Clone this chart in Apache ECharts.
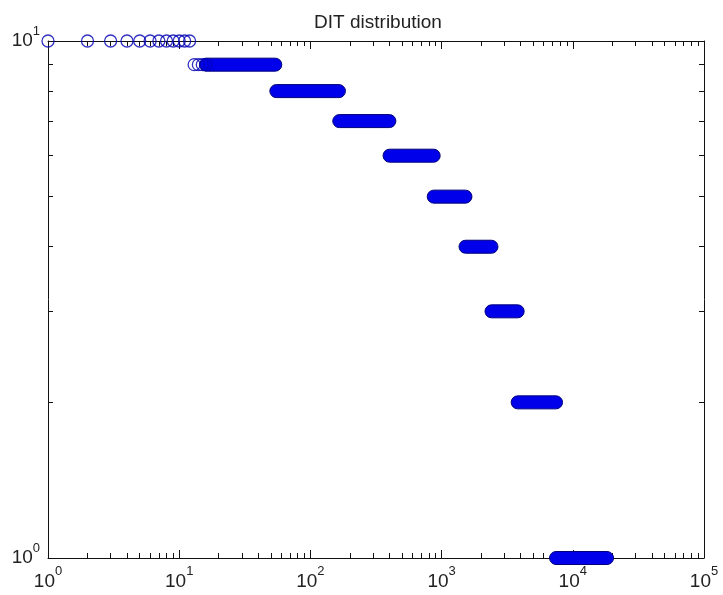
<!DOCTYPE html>
<html>
<head>
<meta charset="utf-8">
<script src="https://cdn.jsdelivr.net/npm/echarts@6/dist/echarts.min.js"></script>
<style>
  html, body { margin: 0; padding: 0; background: #fff; }
  #chart { width: 723px; height: 595px; }
</style>
</head>
<body>
<div id="chart"></div>
<script>
// ranks drawn as single open circles
const level10Ranks = [1, 2, 3, 4, 5, 6, 7, 8, 9, 10, 11, 12];
const level9Ranks = [13, 14, 15, 16];

// dense runs, where the circles merge into one bar
const runLevel = [9, 8, 7, 6, 5, 4, 3, 2, 1];
const runStart = [16, 55, 166, 401, 871, 1521, 2401, 3801, 7451];
const runEnd = [54, 165, 400, 870, 1520, 2400, 3800, 7450, 18240];

// axis ticks
const xMajor = [1, 10, 100, 1000, 10000, 100000];
const xMinor = [2, 3, 4, 5, 6, 7, 8, 9, 20, 30, 40, 50, 60, 70, 80, 90,
  200, 300, 400, 500, 600, 700, 800, 900, 2000, 3000, 4000, 5000, 6000, 7000, 8000, 9000,
  20000, 30000, 40000, 50000, 60000, 70000, 80000, 90000];
const yMajor = [1, 10];
const yMinor = [2, 3, 4, 5, 6, 7, 8, 9];

const FONT = "'Liberation Sans', Arial, sans-serif";
const BLUE = "#0000b4";

// "10" with the exponent raised above it
let powRich = {
  b: { fontSize: 19, fontFamily: FONT, color: "#222", lineHeight: 19, verticalAlign: "bottom" },
  s: { fontSize: 13, fontFamily: FONT, color: "#222", lineHeight: 13, padding: [0, 0, 13, 0], verticalAlign: "bottom" }
};
let powFormat = v => "{b|10}{s|" + Math.round(Math.log10(v)) + "}";

// one log axis of the box; labels only on the bottom/left one
function boxAxis(pos, min, max, ticks, len, labels, showLine) {
  let label = { show: false };
  if (labels) {
    label = {
      show: true,
      customValues: labels,
      formatter: powFormat,
      rich: powRich,
      margin: pos === "bottom" ? 14 : 8
    };
  }
  return {
    type: "log",
    logBase: 10,
    position: pos,
    min: min,
    max: max,
    axisLine: { show: showLine, onZero: false, lineStyle: { color: "#111", width: 1 } },
    axisTick: { show: true, inside: true, length: len, customValues: ticks, lineStyle: { color: "#111", width: 1 } },
    axisLabel: label,
    splitLine: { show: false },
    minorTick: { show: false },
    axisPointer: { show: false }
  };
}

let runs = runLevel.map((lv, i) => [runStart[i], runEnd[i], lv]);

let options = {
  backgroundColor: "#fff",
  animation: false,
  title: {
    text: "DIT distribution",
    left: 373,
    top: 8,
    textAlign: "center",
    textStyle: { fontSize: 19, fontWeight: "normal", color: "#222", fontFamily: FONT }
  },
  grid: { left: 48, right: 19, top: 41, bottom: 37, containLabel: false, outerBoundsMode: "none" },
  xAxis: [
    boxAxis("bottom", 1, 100000, xMinor, 5, xMajor, true),
    boxAxis("top", 1, 100000, xMinor, 5, null, true),
    boxAxis("bottom", 1, 100000, xMajor, 8, null, false),
    boxAxis("top", 1, 100000, xMajor, 8, null, false)
  ],
  yAxis: [
    boxAxis("left", 1, 10, yMinor, 5, yMajor, true),
    boxAxis("right", 1, 10, yMinor, 5, null, true)
  ],
  series: [
    {
      // merged runs of markers, drawn as rounded bars
      type: "custom",
      xAxisIndex: 0,
      yAxisIndex: 0,
      clip: false,
      z: 3,
      data: runs,
      renderItem: (params, api) => {
        let p1 = api.coord([api.value(0), api.value(2)]);
        let p2 = api.coord([api.value(1), api.value(2)]);
        let r = 6.5;
        return {
          type: "rect",
          shape: { x: p1[0] - r, y: p1[1] - r, width: p2[0] - p1[0] + 2 * r, height: 2 * r, r: r },
          style: { fill: "#0000ea", stroke: "#00007a", lineWidth: 1 }
        };
      }
    },
    {
      type: "scatter",
      xAxisIndex: 0,
      yAxisIndex: 0,
      clip: false,
      z: 4,
      symbol: "circle",
      symbolSize: 12,
      itemStyle: { color: "rgba(0,0,0,0)", borderColor: BLUE, borderWidth: 1.3 },
      data: level10Ranks.map(x => [x, 10]).concat(level9Ranks.map(x => [x, 9]))
    }
  ]
};

let chart = echarts.init(document.getElementById("chart"), null, { renderer: "canvas" });
chart.setOption(options);
</script>
</body>
</html>
